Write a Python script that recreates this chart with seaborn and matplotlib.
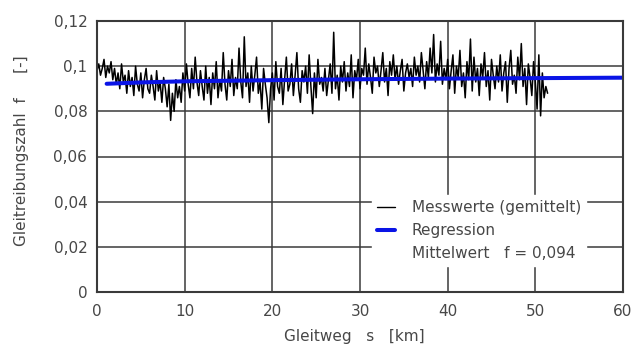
import numpy as np
import pandas as pd
import matplotlib.pyplot as plt
import seaborn as sns
from matplotlib.lines import Line2D

# Messwerte (gemittelt), Gleitreibungszahl in Promille, alle 0,2 km
f_messwerte_promille = [
    98, 101, 96, 99, 103, 95, 100, 97, 102, 94,
    99, 92, 97, 90, 101, 93, 96, 88, 98, 91,
    95, 87, 100, 92, 89, 97, 86, 94, 99, 90,
    88, 96, 91, 85, 98, 89, 93, 84, 95, 90,
    82, 92, 76, 88, 80, 94, 86, 91, 84, 97,
    89, 101, 92, 86, 99, 90, 104, 93, 87, 98,
    91, 85, 100, 88, 95, 83, 97, 90, 102, 86,
    94, 89, 106, 92, 85, 98, 91, 103, 87, 95,
    90, 108, 93, 86, 113, 91, 97, 84, 100, 89,
    96, 104, 88, 93, 81, 99, 92, 86, 75, 90,
    97, 85, 102, 91, 88, 99, 83, 94, 104, 89,
    92, 101, 87, 96, 106, 90, 84, 98, 93, 100,
    88, 105, 91, 79, 97, 86, 103, 92, 95, 89,
    99, 87, 94, 101, 88, 115, 90, 96, 85, 100,
    93, 102, 89, 97, 91, 105, 86, 98, 94, 103,
    90, 99, 96, 108, 92, 101, 95, 88, 104, 97,
    100, 91, 98, 106, 93, 99, 87, 102, 96, 105,
    94, 100, 92, 98, 103, 89, 97, 101, 95, 99,
    91, 104, 96, 100, 93, 106, 98, 90, 102, 95,
    108, 97, 114, 93, 101, 96, 111, 92, 99, 94,
    103, 90, 98, 105, 88, 100, 95, 107, 91, 97,
    86, 102, 94, 112, 89, 104, 93, 99, 87, 101,
    95, 106, 91, 98, 85, 103, 96, 90, 100, 93,
    105, 89, 97, 102, 84, 99, 107, 92, 96, 88,
    104, 94, 110, 91, 99, 83, 101, 95, 87, 102,
    93, 81, 105, 78, 97, 86, 91, 88,
]
schrittweite_km = 0.2

# Regressionskurve
s_regression = [1.1, 5, 10, 20, 30, 40, 50, 60]
f_regression = [0.0922, 0.0928, 0.0933, 0.0938, 0.0942, 0.0945, 0.0947, 0.0949]

x_ticks = [0, 10, 20, 30, 40, 50, 60]
y_ticks = [0, 0.02, 0.04, 0.06, 0.08, 0.1, 0.12]
y_ticklabels = ["0", "0,02", "0,04", "0,06", "0,08", "0,1", "0,12"]

df_mess = pd.DataFrame({
    "s": np.arange(len(f_messwerte_promille)) * schrittweite_km,
    "f": np.array(f_messwerte_promille) / 1000,
})
df_reg = pd.DataFrame({"s": s_regression, "f": f_regression})

sns.set_style("white")
plt.rcParams["font.family"] = ["DejaVu Sans"]

text_col = "#474747"
grid_col = "#3a3a3a"
fs = 11

fig = plt.figure(figsize=(6.33, 3.47), dpi=100)
ax = fig.add_axes([97 / 633, 1 - 292 / 347, (623 - 97) / 633, (292 - 21) / 347])

sns.lineplot(data=df_mess, x="s", y="f", color="black", linewidth=1.1, ax=ax)
sns.lineplot(data=df_reg, x="s", y="f", color="#0a14e6", linewidth=2.9, ax=ax)

ax.set_xlim(0, 60)
ax.set_ylim(0, 0.12)
ax.set_xticks(x_ticks)
ax.set_xticklabels([str(t) for t in x_ticks])
ax.set_yticks(y_ticks)
ax.set_yticklabels(y_ticklabels)
ax.tick_params(length=0, labelsize=fs, labelcolor=text_col)
ax.tick_params(axis="y", pad=7)
ax.tick_params(axis="x", pad=9)
ax.grid(True, color=grid_col, linewidth=1.1)
ax.set_axisbelow(True)
for sp in ax.spines.values():
    sp.set_color(grid_col)
    sp.set_linewidth(1.5)

ax.set_xlabel("Gleitweg   s   [km]", fontsize=fs, color=text_col)
ax.set_ylabel("Gleitreibungszahl  f     [-]", fontsize=fs, color=text_col)
ax.xaxis.set_label_coords(0.49, -0.135)
ax.yaxis.set_label_coords(-0.13, 0.52)

handles = [
    Line2D([], [], color="black", linewidth=1.0),
    Line2D([], [], color="#0a14e6", linewidth=2.9),
    Line2D([], [], linestyle="none"),
]
labels = ["Messwerte (gemittelt)", "Regression", "Mittelwert   f = 0,094"]
leg = ax.legend(handles, labels, loc="lower right", bbox_to_anchor=(0.945, 0.068),
                frameon=True, facecolor="white", edgecolor="white", framealpha=1,
                fancybox=False, fontsize=fs, handlelength=1.15, handletextpad=1.1,
                labelspacing=0.5, borderpad=0.35)
for t in leg.get_texts():
    t.set_color(text_col)

fig.savefig("out.png", dpi=100)
